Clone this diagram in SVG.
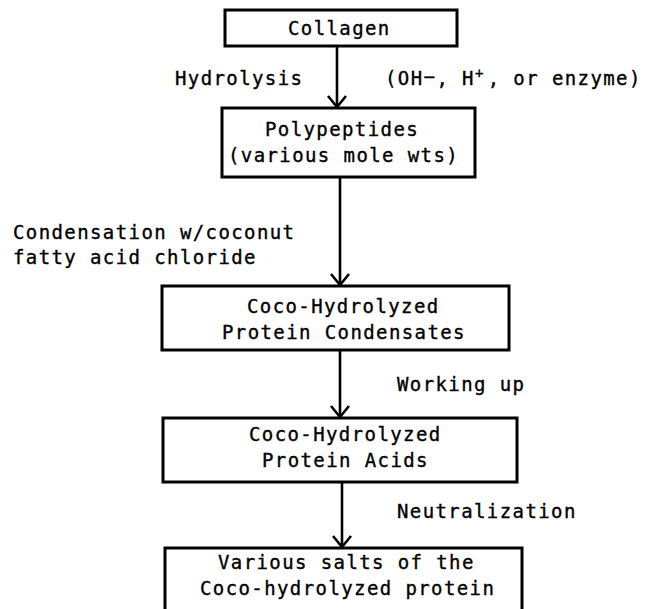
<svg xmlns="http://www.w3.org/2000/svg" width="648" height="609" viewBox="0 0 648 609">
  <style>
    .box { fill: #ffffff; stroke: #000000; stroke-width: 3; }
    .t { font-family: "DejaVu Sans Mono", "Liberation Mono", monospace; font-size: 19px; letter-spacing: 1.4px; fill: #000000; stroke: #000000; stroke-width: 0.35px; }
    .sup { font-size: 14px; }
    .line { stroke: #000000; stroke-width: 2.6; fill: none; }
    .head { stroke: #000000; stroke-width: 2.6; fill: none; stroke-linejoin: miter; }
  </style>
  <rect width="648" height="609" fill="#ffffff"/>

  <g id="connectors">
    <line class="line" x1="337" y1="46" x2="337" y2="107"/>
    <polyline class="head" points="328,96 337,107 346,96"/>
    <line class="line" x1="340" y1="177" x2="340" y2="285"/>
    <polyline class="head" points="331,274 340,285 349,274"/>
    <line class="line" x1="340" y1="350" x2="340" y2="417"/>
    <polyline class="head" points="331,406 340,417 349,406"/>
    <line class="line" x1="342" y1="482" x2="342" y2="547"/>
    <polyline class="head" points="333,536 342,547 351,536"/>
  </g>

  <g id="labels">
    <text class="t" x="175" y="85">Hydrolysis</text>
    <text class="t" x="385" y="85">(OH<tspan dy="-2">−</tspan><tspan x="436.4" dy="2">, H</tspan><tspan class="sup" dy="-7">+</tspan><tspan x="487.7" dy="7">, or enzyme)</tspan></text>
    <text class="t" x="13" y="239">Condensation w/coconut</text>
    <text class="t" x="13" y="264">fatty acid chloride</text>
    <text class="t" x="397" y="391">Working up</text>
    <text class="t" x="397" y="518">Neutralization</text>
  </g>

  <g id="collagen">
    <rect class="box" x="225" y="10" width="232" height="36"/>
    <text class="t" x="288" y="35">Collagen</text>
  </g>

  <g id="polypeptides">
    <rect class="box" x="222" y="108" width="253" height="69"/>
    <text class="t" x="265" y="136">Polypeptides</text>
    <text class="t" x="228" y="162">(various mole wts)</text>
  </g>

  <g id="condensates">
    <rect class="box" x="162" y="286" width="347" height="64"/>
    <text class="t" x="247" y="313">Coco-Hydrolyzed</text>
    <text class="t" x="222" y="339">Protein Condensates</text>
  </g>

  <g id="acids">
    <rect class="box" x="163" y="418" width="354" height="64"/>
    <text class="t" x="249" y="441">Coco-Hydrolyzed</text>
    <text class="t" x="262" y="467">Protein Acids</text>
  </g>

  <g id="salts">
    <rect class="box" x="165" y="548" width="357" height="80"/>
    <text class="t" x="218" y="569">Various salts of the</text>
    <text class="t" x="200" y="595">Coco-hydrolyzed protein</text>
  </g>
</svg>
